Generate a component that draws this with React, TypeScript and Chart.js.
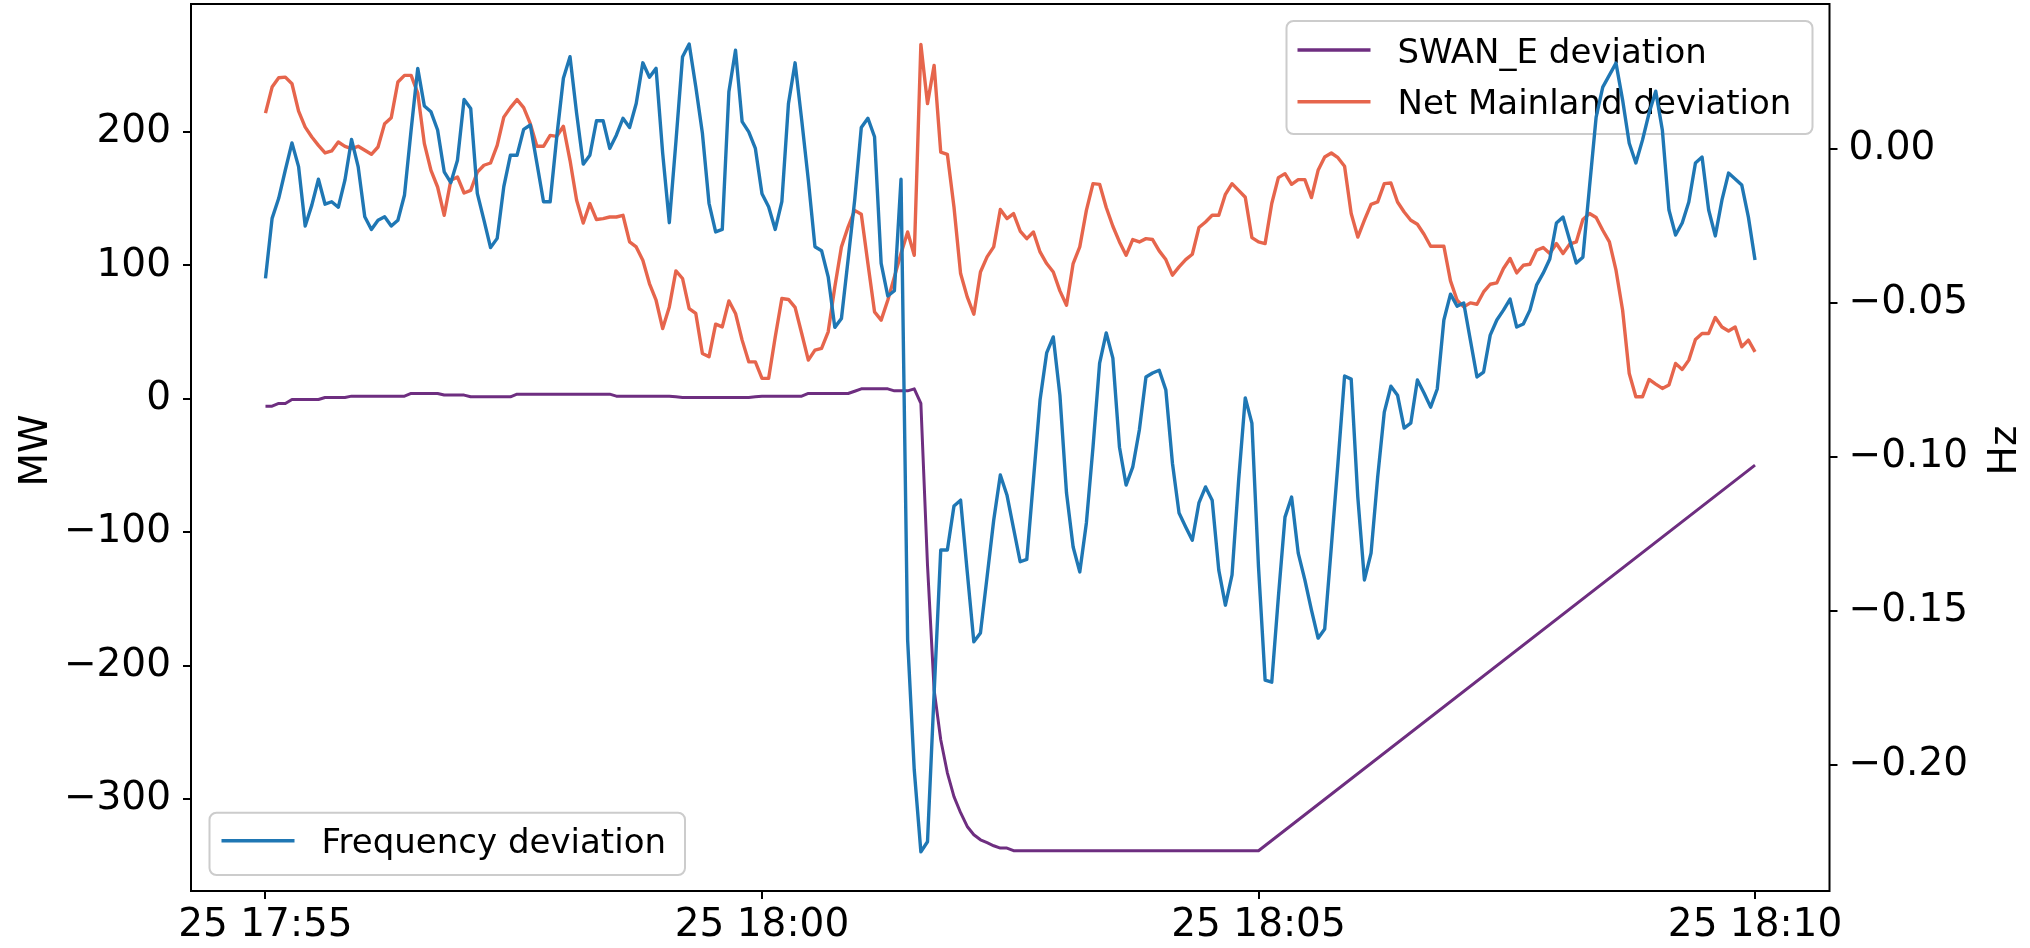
import React, { useEffect, useRef } from "react";
import { Chart, registerables } from "chart.js";

Chart.register(...registerables);

// ---------- data (4-second samples from 25 17:55:00) ----------
const SAMPLE_STEP_S = 4;
const sampleSeconds: number[] = Array.from({ length: 226 }, (_, i) => i * SAMPLE_STEP_S);

// Frequency deviation (Hz), right axis
const frequencyHz: number[] = [
  -0.0419, -0.0224, -0.0159, -0.0067, 0.0021, -0.0056, -0.0249, -0.0181, -0.0097, -0.0178,
  -0.0170, -0.0188, -0.0100, 0.0032, -0.0056, -0.0219, -0.0260, -0.0230, -0.0219, -0.0249,
  -0.0230, -0.0148, 0.0063, 0.0263, 0.0141, 0.0122, 0.0063, -0.0073, -0.0108, -0.0035,
  0.0162, 0.0133, -0.0143, -0.0230, -0.0319, -0.0289, -0.0121, -0.0019, -0.0019, 0.0065,
  0.0079, -0.0045, -0.0170, -0.0170, 0.0041, 0.0231, 0.0301, 0.0117, -0.0048, -0.0019,
  0.0093, 0.0093, 0.0003, 0.0046, 0.0101, 0.0071, 0.0149, 0.0281, 0.0234, 0.0263,
  -0.0013, -0.0238, 0.0025, 0.0301, 0.0342, 0.0203, 0.0052, -0.0175, -0.0268, -0.0260,
  0.0187, 0.0322, 0.0090, 0.0057, 0.0003, -0.0144, -0.0186, -0.0260, -0.0170, 0.0149,
  0.0281, 0.0095, -0.0100, -0.0316, -0.0329, -0.0414, -0.0578, -0.0549, -0.0359, -0.0165,
  0.0071, 0.0101, 0.0041, -0.0370, -0.0476, -0.0459, -0.0097, -0.1593, -0.2015, -0.2281,
  -0.2248, -0.1766, -0.1301, -0.1301, -0.1158, -0.1139, -0.1371, -0.1599, -0.1570, -0.1388,
  -0.1204, -0.1057, -0.1122, -0.1231, -0.1339, -0.1331, -0.1074, -0.0814, -0.0661, -0.0609,
  -0.0798, -0.1116, -0.1291, -0.1372, -0.1213, -0.0967, -0.0694, -0.0596, -0.0678, -0.0967,
  -0.1090, -0.1032, -0.0911, -0.0739, -0.0726, -0.0717, -0.0781, -0.1019, -0.1181, -0.1226,
  -0.1269, -0.1148, -0.1096, -0.1139, -0.1366, -0.1480, -0.1382, -0.1074, -0.0807, -0.0889,
  -0.1356, -0.1723, -0.1730, -0.1454, -0.1194, -0.1129, -0.1311, -0.1398, -0.1496, -0.1587,
  -0.1557, -0.1291, -0.1019, -0.0736, -0.0746, -0.1129, -0.1398, -0.1311, -0.1064, -0.0853,
  -0.0769, -0.0798, -0.0905, -0.0889, -0.0749, -0.0791, -0.0837, -0.0778, -0.0554, -0.0470,
  -0.0509, -0.0499, -0.0619, -0.0739, -0.0723, -0.0603, -0.0554, -0.0522, -0.0486, -0.0577,
  -0.0567, -0.0522, -0.0441, -0.0402, -0.0356, -0.0239, -0.0220, -0.0294, -0.0369, -0.0350,
  -0.0122, 0.0105, 0.0202, 0.0241, 0.0280, 0.0160, 0.0020, -0.0044, 0.0030, 0.0118,
  0.0189, 0.0063, -0.0197, -0.0278, -0.0239, -0.0171, -0.0044, -0.0025, -0.0197, -0.0281,
  -0.0165, -0.0077, -0.0096, -0.0116, -0.0220, -0.0359,
];

// Net Mainland deviation (MW), left axis
const netMainlandMW: number[] = [
  214.2, 233.7, 240.7, 241.2, 236.2, 215.7, 203.7, 196.3, 190.0, 184.3,
  185.8, 192.5, 189.3, 187.6, 189.3, 186.3, 183.3, 188.8, 206.3, 210.8,
  237.5, 242.5, 242.5, 229.2, 191.3, 171.3, 158.8, 137.6, 163.8, 166.3,
  154.3, 156.3, 170.0, 175.1, 176.8, 190.0, 211.2, 218.3, 224.3, 218.3,
  206.3, 189.3, 189.3, 197.5, 196.8, 204.3, 178.8, 148.8, 131.8, 146.4,
  134.4, 135.1, 136.3, 136.3, 137.6, 117.6, 113.9, 103.9, 86.4, 73.9,
  52.7, 68.9, 95.9, 90.2, 67.7, 64.0, 34.0, 31.5, 56.0, 53.9,
  73.4, 64.0, 44.0, 27.7, 27.7, 15.3, 15.3, 46.4, 75.2, 74.5,
  68.5, 49.0, 29.0, 36.5, 37.8, 50.2, 83.9, 113.9, 128.8, 141.3,
  138.4, 101.4, 65.2, 59.0, 73.9, 91.4, 108.9, 125.1, 107.6, 265.7,
  221.3, 250.0, 185.0, 183.3, 143.8, 93.9, 76.4, 63.4, 95.1, 106.4,
  113.9, 141.9, 135.1, 138.9, 125.8, 120.1, 125.1, 110.1, 101.4, 95.1,
  80.9, 70.2, 101.4, 113.9, 141.3, 161.3, 160.8, 143.4, 129.4, 117.6,
  107.6, 119.4, 117.6, 120.1, 119.4, 110.9, 104.4, 92.7, 98.9, 104.4,
  108.4, 128.4, 132.6, 137.6, 137.6, 153.3, 161.3, 156.3, 151.1, 120.9,
  117.6, 116.4, 146.4, 165.8, 168.8, 160.8, 164.3, 164.3, 150.9, 171.3,
  181.3, 184.3, 180.8, 174.3, 138.9, 121.3, 133.9, 145.8, 147.6, 161.3,
  161.8, 147.6, 140.1, 133.9, 130.9, 123.4, 114.4, 114.4, 114.4, 88.4,
  73.9, 68.9, 71.9, 70.9, 80.1, 85.9, 86.9, 97.7, 105.2, 94.4,
  100.1, 100.9, 111.4, 113.4, 108.9, 116.4, 108.9, 115.9, 117.6, 134.4,
  138.9, 135.9, 126.4, 117.6, 96.4, 66.4, 19.0, 1.5, 1.5, 14.5,
  11.0, 7.8, 10.3, 26.5, 22.0, 29.0, 44.5, 49.0, 49.0, 61.0,
  53.9, 50.9, 53.9, 39.0, 44.0, 35.2,
];

// SWAN_E deviation (MW), left axis: 4-s samples up to 18:02:32, then the
// flat segment end (18:05:00) and the end of the straight ramp (18:10:00)
const swanSeconds: number[] = [...sampleSeconds.slice(0, 114), 600, 900];
const swanMW: number[] = [
  -5.5, -5.5, -3.5, -3.5, -0.5, -0.5, -0.5, -0.5, -0.5, 1.0,
  1.0, 1.0, 1.0, 2.0, 2.0, 2.0, 2.0, 2.0, 2.0, 2.0,
  2.0, 2.0, 4.0, 4.0, 4.0, 4.0, 4.0, 2.8, 2.8, 2.8,
  2.8, 1.5, 1.5, 1.5, 1.5, 1.5, 1.5, 1.5, 3.5, 3.5,
  3.5, 3.5, 3.5, 3.5, 3.5, 3.5, 3.5, 3.5, 3.5, 3.5,
  3.5, 3.5, 3.5, 2.0, 2.0, 2.0, 2.0, 2.0, 2.0, 2.0,
  2.0, 2.0, 1.5, 1.0, 1.0, 1.0, 1.0, 1.0, 1.0, 1.0,
  1.0, 1.0, 1.0, 1.0, 1.5, 2.0, 2.0, 2.0, 2.0, 2.0,
  2.0, 2.0, 4.0, 4.0, 4.0, 4.0, 4.0, 4.0, 4.0, 5.7,
  7.5, 7.5, 7.5, 7.5, 7.5, 6.0, 6.0, 6.0, 7.5, -3.5,
  -124.6, -218.2, -255.6, -280.4, -298.3, -310.3, -320.6, -326.8, -330.6, -332.8,
  -335.1, -336.8, -336.8, -338.8,
  -338.8, -49.7,
];

const xTickMinutes = [0, 5, 10, 15];
const xTickLabels = ["25 17:55", "25 18:00", "25 18:05", "25 18:10"];
const mwTicks = [-300, -200, -100, 0, 100, 200];
const hzTicks = [-0.2, -0.15, -0.1, -0.05, 0];

const seriesNames = {
  swan: "SWAN_E deviation",
  net: "Net Mainland deviation",
  freq: "Frequency deviation",
};

// ---------- styling / layout ----------
const W = 2030;
const H = 948;
const AREA = { left: 191, right: 1829.5, top: 4, bottom: 891 };
const FONT = "'DejaVu Sans', 'Liberation Sans', sans-serif";
const COLORS = { freq: "#1f77b4", net: "#e6654c", swan: "#6e2e80" };
const TICK_FONT = 39;

const minus = (s: string) => s.replace("-", "\u2212");

function legendBox(ctx: CanvasRenderingContext2D, x: number, y: number, w: number, h: number) {
  ctx.save();
  ctx.beginPath();
  (ctx as any).roundRect(x, y, w, h, 7);
  ctx.fillStyle = "rgba(255,255,255,0.8)";
  ctx.fill();
  ctx.lineWidth = 2;
  ctx.strokeStyle = "#cccccc";
  ctx.stroke();
  ctx.restore();
}

function legendRow(ctx: CanvasRenderingContext2D, x: number, lineY: number, baseY: number, color: string, text: string) {
  ctx.save();
  ctx.strokeStyle = color;
  ctx.lineWidth = 3.4;
  ctx.beginPath();
  ctx.moveTo(x, lineY);
  ctx.lineTo(x + 73, lineY);
  ctx.stroke();
  ctx.fillStyle = "#000";
  ctx.font = `34px ${FONT}`;
  ctx.textAlign = "left";
  ctx.textBaseline = "alphabetic";
  ctx.fillText(text, x + 100, baseY);
  ctx.restore();
}

const decorPlugin = {
  id: "decor",
  beforeDatasetsDraw(chart: any) {
    const ctx = chart.ctx as CanvasRenderingContext2D;
    const a = chart.chartArea;
    // upper-right legend (left axes), drawn beneath the frequency line
    const right = a.right - 17;
    const top = a.top + 17;
    legendBox(ctx, right - 526, top, 526, 113);
    legendRow(ctx, right - 515, top + 29, top + 41.7, COLORS.swan, seriesNames.swan);
    legendRow(ctx, right - 515, top + 80.7, top + 93.3, COLORS.net, seriesNames.net);
  },
  afterDatasetsDraw(chart: any) {
    const ctx = chart.ctx as CanvasRenderingContext2D;
    const a = chart.chartArea;
    // frame
    ctx.save();
    ctx.strokeStyle = "#000";
    ctx.lineWidth = 2;
    ctx.strokeRect(a.left, a.top, a.right - a.left, a.bottom - a.top);
    ctx.restore();
    // lower-left legend (right axis)
    const left = a.left + 18.5;
    const bottom = a.bottom - 16;
    legendBox(ctx, left, bottom - 62.3, 475.5, 62.3);
    legendRow(ctx, left + 12, bottom - 34.3, bottom - 21.7, COLORS.freq, seriesNames.freq);
  },
  afterDraw(chart: any) {
    const ctx = chart.ctx as CanvasRenderingContext2D;
    const a = chart.chartArea;
    const midY = (a.top + a.bottom) / 2 + 3;
    ctx.save();
    ctx.fillStyle = "#000";
    ctx.font = `${TICK_FONT}px ${FONT}`;
    ctx.textAlign = "center";
    ctx.textBaseline = "alphabetic";
    ctx.translate(47, midY);
    ctx.rotate(-Math.PI / 2);
    ctx.fillText("MW", 0, 0);
    ctx.restore();
    ctx.save();
    ctx.fillStyle = "#000";
    ctx.font = `${TICK_FONT}px ${FONT}`;
    ctx.textAlign = "center";
    ctx.textBaseline = "alphabetic";
    ctx.translate(2016, midY);
    ctx.rotate(-Math.PI / 2);
    ctx.fillText("Hz", 0, 0);
    ctx.restore();
  },
};

const gridOpts = {
  drawOnChartArea: false,
  drawTicks: true,
  tickLength: 8,
  tickWidth: 2,
  tickColor: "#000",
  color: "#000",
  lineWidth: 2,
};

const zeroPad = (s: any) => {
  s.paddingTop = 0;
  s.paddingBottom = 0;
  s.paddingLeft = 0;
  s.paddingRight = 0;
};

export default function App() {
  const ref = useRef<HTMLCanvasElement | null>(null);

  useEffect(() => {
    if (!ref.current) return;
    Chart.defaults.font.family = FONT;
    Chart.defaults.color = "#000";

    const freqData = sampleSeconds.map((s, i) => ({ x: s / 60, y: frequencyHz[i] }));
    const netData = sampleSeconds.map((s, i) => ({ x: s / 60, y: netMainlandMW[i] }));
    const swanData = swanSeconds.map((s, i) => ({ x: s / 60, y: swanMW[i] }));

    const lineStyle = {
      pointRadius: 0,
      pointHoverRadius: 0,
      borderWidth: 3.4,
      tension: 0,
      borderJoinStyle: "round" as const,
      fill: false,
    };

    const chart = new Chart(ref.current, {
      type: "line",
      data: {
        datasets: [
          { ...lineStyle, label: seriesNames.freq, data: freqData, borderColor: COLORS.freq, yAxisID: "y1", order: 0 },
          { ...lineStyle, label: seriesNames.net, data: netData, borderColor: COLORS.net, yAxisID: "y", order: 1 },
          { ...lineStyle, label: seriesNames.swan, data: swanData, borderColor: COLORS.swan, yAxisID: "y", order: 2, borderWidth: 3 },
        ],
      },
      options: {
        responsive: false,
        animation: false,
        events: [],
        layout: { padding: { top: AREA.top, left: 0, right: 0, bottom: 0 } },
        plugins: { legend: { display: false }, tooltip: { enabled: false } },
        scales: {
          x: {
            type: "linear",
            position: "bottom",
            min: -0.75,
            max: 15.75,
            afterBuildTicks: (s: any) => {
              s.ticks = xTickMinutes.map((v) => ({ value: v }));
            },
            afterFit: (s: any) => {
              s.height = H - AREA.bottom;
              zeroPad(s);
            },
            ticks: {
              autoSkip: false,
              maxRotation: 0,
              minRotation: 0,
              padding: 3,
              color: "#000",
              font: { size: TICK_FONT, lineHeight: 1.2 },
              callback: (_v: any, i: number) => xTickLabels[i],
            },
            grid: gridOpts,
            border: { display: false },
          },
          y: {
            type: "linear",
            position: "left",
            min: -369,
            max: 296,
            afterBuildTicks: (s: any) => {
              s.ticks = mwTicks.map((v) => ({ value: v }));
            },
            afterFit: (s: any) => {
              s.width = AREA.left;
              zeroPad(s);
            },
            ticks: {
              padding: 12,
              color: "#000",
              font: { size: TICK_FONT },
              callback: (v: any) => minus(String(v)),
            },
            grid: gridOpts,
            border: { display: false },
          },
          y1: {
            type: "linear",
            position: "right",
            min: -0.2408,
            max: 0.0472,
            afterBuildTicks: (s: any) => {
              s.ticks = hzTicks.map((v) => ({ value: v }));
            },
            afterFit: (s: any) => {
              s.width = W - AREA.right;
              zeroPad(s);
            },
            ticks: {
              padding: 11,
              color: "#000",
              font: { size: TICK_FONT },
              callback: (v: any) => minus(Number(v).toFixed(2)),
            },
            grid: gridOpts,
            border: { display: false },
          },
        },
      },
      plugins: [decorPlugin],
    } as any);

    return () => chart.destroy();
  }, []);

  return (
    <div style={{ position: "absolute", left: 0, top: 0, width: W, height: H, background: "#fff" }}>
      <canvas ref={ref} width={W} height={H} style={{ display: "block", width: W, height: H }} />
    </div>
  );
}
